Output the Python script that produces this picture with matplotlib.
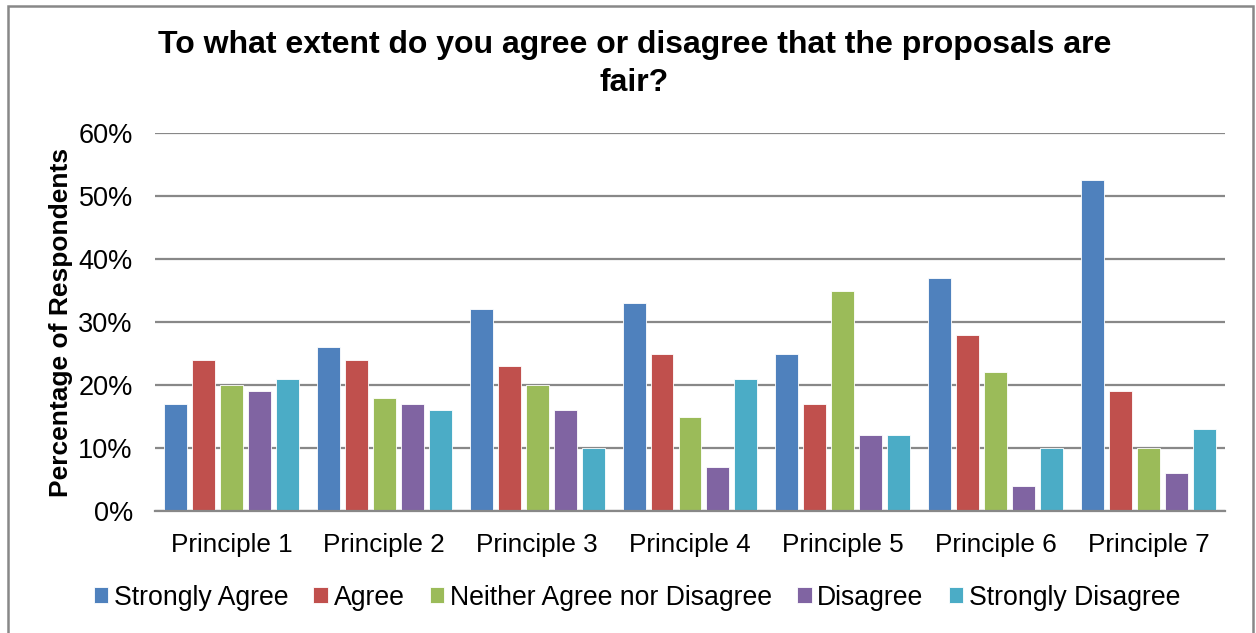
import matplotlib
matplotlib.use("Agg")
import matplotlib.pyplot as plt
import numpy as np
from matplotlib.patches import Rectangle

plt.rcParams['font.family'] = ['Liberation Sans', 'DejaVu Sans']

categories = ["Principle 1", "Principle 2", "Principle 3", "Principle 4",
              "Principle 5", "Principle 6", "Principle 7"]
series_names = ["Strongly Agree", "Agree", "Neither Agree nor Disagree",
                "Disagree", "Strongly Disagree"]
strongly_agree = [17, 26, 32, 33, 25, 37, 52.5]
agree = [24, 24, 23, 25, 17, 28, 19]
neither = [20, 18, 20, 15, 35, 22, 10]
disagree = [19, 17, 16, 7, 12, 4, 6]
strongly_disagree = [21, 16, 10, 21, 12, 10, 13]
y_ticks = [0, 10, 20, 30, 40, 50, 60]

series = [strongly_agree, agree, neither, disagree, strongly_disagree]
colors = ["#4F81BD", "#C0504D", "#9BBB59", "#8064A2", "#4BACC6"]

fig = plt.figure(figsize=(12.56, 6.33), dpi=100)
ax = fig.add_axes([0.1234, 0.1927, 0.8519, 0.5972])

x = np.arange(len(categories))
pitch = 0.183
width = 0.15
for i, (vals, col, name) in enumerate(zip(series, colors, series_names)):
    offs = (i - 2) * pitch
    ax.bar(x + offs, np.array(vals) / 100, width=width, color=col,
           edgecolor="white", linewidth=0.6, label=name, zorder=3)

ax.set_xlim(-0.5, len(categories) - 0.5)
ax.set_ylim(0, 0.6)
ax.set_yticks([t / 100 for t in y_ticks])
ax.set_yticklabels([f"{t}%" for t in y_ticks], fontsize=19.5)
ax.set_xticks(x)
ax.set_xticklabels(categories, fontsize=18.8)
ax.tick_params(axis="both", length=0)
ax.tick_params(axis="x", pad=16)
ax.tick_params(axis="y", pad=16)
ax.yaxis.grid(True, color="#888888", linewidth=1.6, zorder=0)
for side in ("top", "right", "left"):
    ax.spines[side].set_visible(False)
ax.spines["bottom"].set_color("#888888")
ax.spines["bottom"].set_linewidth(1.6)
ax.spines["bottom"].set_zorder(4)

ax.set_ylabel("Percentage of Respondents", fontsize=19, fontweight="bold",
              labelpad=4)

fig.text(0.505, 0.899, "To what extent do you agree or disagree that the proposals are\nfair?",
         ha="center", va="center", fontsize=23, fontweight="bold",
         linespacing=1.35)

handles, labels = ax.get_legend_handles_labels()
leg = fig.legend(handles, labels, loc="center", bbox_to_anchor=(0.507, 0.056),
                 ncol=5, frameon=False, fontsize=19.2, handlelength=0.55,
                 handleheight=0.55, handletextpad=0.2, columnspacing=0.95)

fig.patches.append(Rectangle((8 / 1256, -0.05), 1245 / 1256, 1.0 - 6 / 633 + 0.05,
                             transform=fig.transFigure, fill=False,
                             edgecolor="#888888", linewidth=1.8))

fig.savefig("out.png", dpi=100, facecolor="white")
